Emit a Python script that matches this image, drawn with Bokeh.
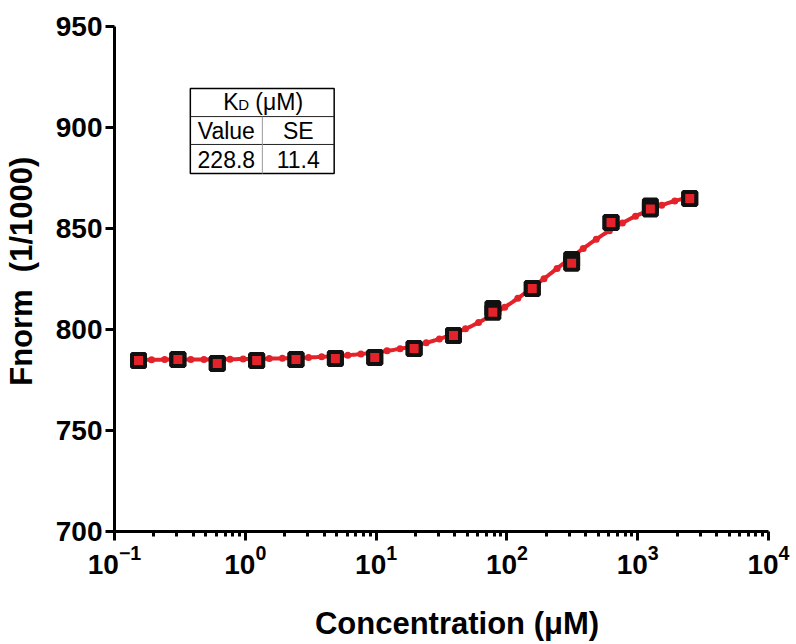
import numpy as np
from bokeh.plotting import figure
from bokeh.models import FixedTicker, LogTickFormatter
from bokeh.core.properties import value
from bokeh.embed import file_html
from bokeh.resources import INLINE

# ---- data ----
conc_uM = [0.1526, 0.3052, 0.6104, 1.221, 2.441, 4.883, 9.766, 19.53,
           39.06, 78.13, 156.3, 312.5, 625.0, 1250.0, 2500.0]
fnorm_rep1 = [784.7, 785.1, 783.2, 784.7, 785.1, 785.6, 786.1, 790.6,
              797.0, 810.4, 820.3, 834.6, 853.0, 861.2, 864.9]
fnorm_rep2 = [784.7, 785.1, 783.2, 784.7, 785.1, 785.6, 786.1, 790.6,
              797.0, 808.6, 820.3, 832.8, 853.0, 859.6, 864.9]
kd_value = 228.8
kd_se = 11.4
fit_unbound = 785.0
fit_bound = 873.0
y_ticks = [700, 750, 800, 850, 900, 950]
x_exponents = [-1, 0, 1, 2, 3, 4]

RED = "#E4222A"
FONT = "Liberation Sans"

p = figure(width=796, height=644, x_axis_type="log",
           x_range=(0.1, 1e4), y_range=(700, 950),
           output_backend="svg", toolbar_location=None,
           min_border_left=113, min_border_right=28,
           min_border_top=26, min_border_bottom=113)
p.outline_line_color = None
p.xgrid.visible = False
p.ygrid.visible = False
p.background_fill_color = "white"
p.border_fill_color = "white"

# axes
major_x = [10.0 ** e for e in x_exponents]
minor_x = [m * 10.0 ** e for e in x_exponents[:-1] for m in range(2, 10)]
p.xaxis.ticker = FixedTicker(ticks=major_x, minor_ticks=minor_x)
p.xaxis.formatter = LogTickFormatter()
p.yaxis.ticker = FixedTicker(ticks=y_ticks, minor_ticks=[])
for ax in (p.xaxis, p.yaxis):
    ax.axis_line_width = 3
    ax.axis_line_color = "black"
    ax.major_tick_line_width = 3
    ax.minor_tick_line_width = 3
    ax.major_tick_in = 0
    ax.minor_tick_in = 0
    ax.major_tick_out = 9
    ax.minor_tick_out = 5
    ax.major_label_text_font = FONT
    ax.major_label_text_font_style = "bold"
    ax.major_label_text_font_size = "28px"
    ax.major_label_text_color = "black"
    ax.axis_label_text_font = FONT
    ax.axis_label_text_font_style = "bold"
    ax.axis_label_text_font_size = "31px"
    ax.axis_label_text_color = "black"
p.yaxis.major_label_standoff = 3
p.yaxis.axis_label = "\u2002Fnorm\u00a0\u00a0(1/1000)"
p.yaxis.axis_label_standoff = 14
p.xaxis.major_label_standoff = 4
p.xaxis.axis_label = "\u2002\u2002Concentration (\u03bcM)"
p.xaxis.axis_label_standoff = 29

# fit curve (one-site binding with the KD from the table)
c_fit = np.logspace(np.log10(conc_uM[0]), np.log10(conc_uM[-1]), 300)
f_fit = fit_unbound + (fit_bound - fit_unbound) * c_fit / (c_fit + kd_value)
p.line(c_fit, f_fit, line_color=RED, line_width=4)
c_dot = 10 ** np.arange(np.log10(conc_uM[0]), np.log10(conc_uM[-1]) + 1e-9, 0.1)
f_dot = fit_unbound + (fit_bound - fit_unbound) * c_dot / (c_dot + kd_value)
p.scatter(c_dot, f_dot, marker="circle", size=7, fill_color=RED,
          line_color=None)

# data points
for reps in (fnorm_rep1, fnorm_rep2):
    p.scatter(conc_uM, reps, marker="square", size=13, line_width=4,
              line_color="#111111", fill_color=RED)

# KD table (drawn in data space)
tl, tdiv, tr = 0.380, 1.35, 4.78
ttop, tr1, tr2, tbot = 919.3, 905.4, 891.6, 877.2
p.quad(left=[tl], right=[tr], top=[ttop], bottom=[tbot], fill_color="white",
       line_color="black", line_width=1.5)
p.segment(x0=[tl, tl], x1=[tr, tr], y0=[tr1, tr2], y1=[tr1, tr2],
          line_color="#222222", line_width=1)
p.segment(x0=[tdiv], x1=[tdiv], y0=[tr1], y1=[tbot],
          line_color="#9a9a9a", line_width=1)

hdr_y = 912.6
tkw = dict(text_font=value(FONT), text_color="black", text_baseline="middle",
           text_align="left")
p.text(x=[tdiv], y=[hdr_y], text=["K"], x_offset=-39, text_font_size="23px", **tkw)
p.text(x=[tdiv], y=[hdr_y], text=["D"], x_offset=-24, y_offset=2,
       text_font_size="15px", **tkw)
p.text(x=[tdiv], y=[hdr_y], text=["(\u03bcM)"], x_offset=-7, text_font_size="23px", **tkw)

ckw = dict(text_font=value(FONT), text_color="black", text_baseline="middle",
           text_align="center", text_font_size="23px")
p.text(x=[0.716, 2.54], y=[898.5, 898.5], text=["Value", "SE"], **ckw)
p.text(x=[0.716, 2.54], y=[884.4, 884.4], text=[f"{kd_value:.1f}", f"{kd_se:.1f}"], **ckw)

open("out.html", "w").write(file_html(p, INLINE))
